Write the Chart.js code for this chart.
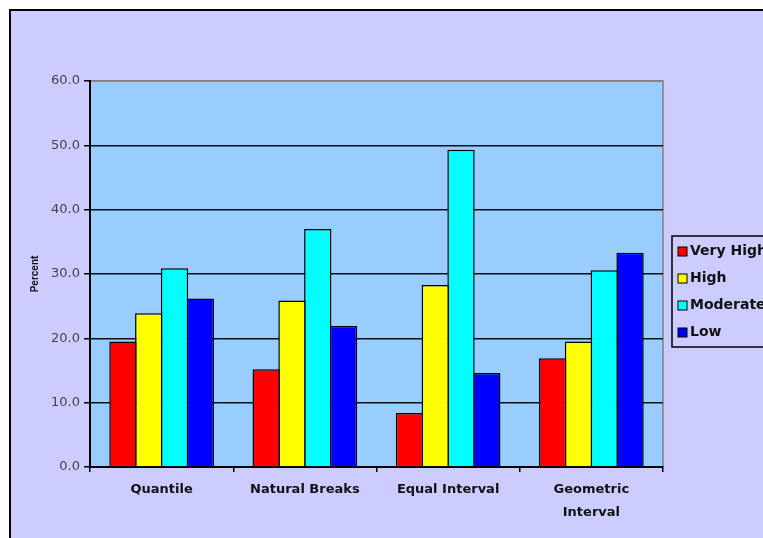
<!DOCTYPE html>
<html>
<head>
<meta charset="utf-8">
<script src="https://cdn.jsdelivr.net/npm/chart.js@4/dist/chart.umd.min.js"></script>
<style>
html, body { margin: 0; padding: 0; background: #fff; overflow: hidden; }
#wrap { position: absolute; left: 0; top: 0; width: 763px; height: 538px; }
</style>
</head>
<body>
<div id="wrap"><canvas id="chart"></canvas></div>
<script>
const categories = ["Quantile", "Natural Breaks", "Equal Interval", ["Geometric", "Interval"]];
const seriesNames = ["Very High", "High", "Moderate", "Low"];
const veryHigh = [19.5, 15.2, 8.4, 16.9];
const high = [23.9, 25.9, 28.3, 19.5];
const moderate = [30.9, 37.0, 49.3, 30.6];
const low = [26.2, 21.9, 14.6, 33.3];
const colors = ["#FF0000", "#FFFF00", "#00FFFF", "#0000FF"];

// page frame, plot fill and the boxed legend
const frame = {
    id: 'frame',
    beforeDraw(chart) {
        const c = chart.ctx, a = chart.chartArea;
        c.save();
        c.fillStyle = '#fff';
        c.fillRect(0, 0, chart.width, chart.height);
        c.fillStyle = '#CCCCFF';
        c.fillRect(10, 10, chart.width, chart.height);
        c.strokeStyle = '#000';
        c.lineWidth = 2;
        c.beginPath();
        c.moveTo(10, chart.height + 5);
        c.lineTo(10, 10);
        c.lineTo(chart.width + 5, 10);
        c.stroke();
        c.fillStyle = '#99CCFF';
        c.fillRect(a.left, a.top, a.right - a.left, a.bottom - a.top);
        c.strokeStyle = '#808080';
        c.lineWidth = 1.5;
        c.beginPath();
        c.moveTo(a.left, a.top);
        c.lineTo(a.right, a.top);
        c.lineTo(a.right, a.bottom);
        c.stroke();
        c.restore();
    },
    afterDraw(chart) {
        const c = chart.ctx;
        c.save();
        c.fillStyle = '#CCCCFF';
        c.fillRect(672, 236, 120, 111);
        c.strokeStyle = '#000';
        c.lineWidth = 1.5;
        c.strokeRect(672, 236, 120, 111);
        c.font = 'bold 14px "DejaVu Sans"';
        c.textBaseline = 'middle';
        chart.data.datasets.forEach((ds, i) => {
            const y = 251 + i * 27;
            c.fillStyle = ds.backgroundColor;
            c.fillRect(678, y - 4, 9, 9);
            c.lineWidth = 1;
            c.strokeRect(678, y - 4, 9, 9);
            c.fillStyle = '#111';
            c.fillText(ds.label, 690, y);
        });
        c.restore();
    }
};

const series = [veryHigh, high, moderate, low];

new Chart(document.getElementById('chart'), {
    type: 'bar',
    data: {
        labels: categories,
        datasets: series.map((d, i) => ({
            label: seriesNames[i],
            data: d,
            backgroundColor: colors[i],
            borderColor: '#000',
            borderWidth: 1.5,
            borderSkipped: 'bottom',
            categoryPercentage: 0.72,
            barPercentage: 1.06
        }))
    },
    options: {
        responsive: true,
        maintainAspectRatio: false,
        animation: false,
        layout: { padding: { top: 81, right: 100, left: 12, bottom: 0 } },
        plugins: {
            legend: { display: false },
            tooltip: { enabled: false }
        },
        scales: {
            x: {
                afterFit: s => { s.height = 71; },
                grid: {
                    display: true,
                    drawOnChartArea: false,
                    offset: true,
                    tickLength: 5,
                    color: '#000',
                    lineWidth: 1.5
                },
                border: { color: '#000', width: 2 },
                ticks: {
                    color: '#111',
                    padding: 6,
                    font: { family: '"DejaVu Sans"', size: 13, weight: 'bold', lineHeight: 1.8 }
                }
            },
            y: {
                min: 0,
                max: 60,
                afterFit: s => { s.width = 78; },
                grid: {
                    color: ctx => ctx.tick && ctx.tick.value === 60 ? '#808080' : '#111',
                    tickColor: '#000',
                    lineWidth: 1.5,
                    tickLength: 6
                },
                border: { color: '#000', width: 2 },
                ticks: {
                    stepSize: 10,
                    color: '#444',
                    padding: 4,
                    font: { family: '"DejaVu Sans"', size: 13 },
                    callback: v => v.toFixed(1)
                },
                title: {
                    display: true,
                    text: 'Percent',
                    color: '#111',
                    padding: { top: 17, bottom: 0 },
                    font: { family: '"Liberation Sans"', size: 10, weight: 'bold' }
                }
            }
        }
    },
    plugins: [frame]
});
</script>
</body>
</html>
